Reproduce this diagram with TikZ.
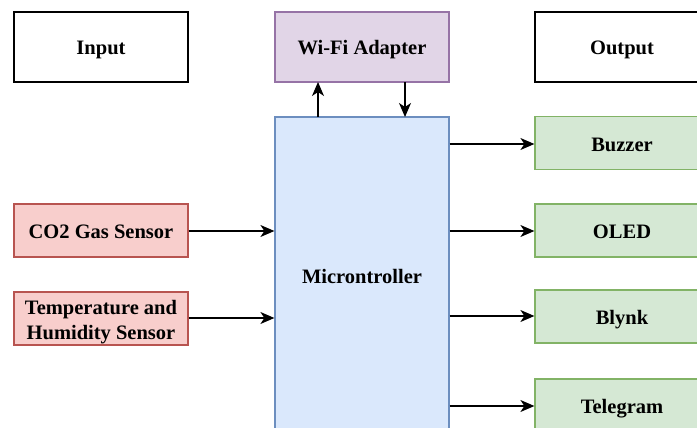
\documentclass[tikz,border=0pt]{standalone}
\usepackage{fontspec}
\setmainfont{Liberation Serif}
\usetikzlibrary{arrows.meta}
\definecolor{redfill}{HTML}{F8CECC}\definecolor{redline}{HTML}{B85450}
\definecolor{purfill}{HTML}{E1D5E7}\definecolor{purline}{HTML}{9673A6}
\definecolor{bluefill}{HTML}{DAE8FC}\definecolor{blueline}{HTML}{6C8EBF}
\definecolor{grnfill}{HTML}{D5E8D4}\definecolor{grnline}{HTML}{82B366}
\tikzset{
  txtbase/.style={align=center, inner sep=0pt, font=\fontsize{20.5}{25}\selectfont\bfseries},
  txt/.style={txtbase, text height=18pt, text depth=2pt},
  txttwo/.style={txtbase, yshift=-3.3pt},
  box/.style={draw, line width=1.2pt, minimum width=174pt, minimum height=53pt, inner sep=0pt},
  plain/.style={box, draw=black, fill=white, minimum height=70pt},
  inbox/.style={box, draw=redline, fill=redfill},
  wifibox/.style={box, draw=purline, fill=purfill, minimum height=70pt},
  mcbox/.style={box, draw=blueline, fill=bluefill, minimum height=316pt},
  outbox/.style={box, draw=grnline, fill=grnfill},
  conn/.style={line width=1.3pt, -{Stealth[length=14pt,width=12pt,inset=4pt]}}
}
\begin{document}
\begin{tikzpicture}[x=1pt,y=-1pt]
\useasboundingbox (0,0) rectangle (697,428);
\clip (0,0) rectangle (697,428);
\node[plain, label={[txt]center:Input}] (input) at (101,47) {};
\node[wifibox, label={[txt]center:Wi-Fi Adapter}] (wifi) at (362,47) {};
\node[plain, label={[txt]center:Output}] (output) at (622,47) {};
\node[mcbox, label={[txt]center:Microntroller}] (mc) at (362,275) {};
\node[inbox, label={[txt]center:CO2 Gas Sensor}] (co2) at (101,230.5) {};
\node[inbox, label={[txttwo]center:{Temperature and\\Humidity Sensor}}] (temp) at (101,318.5) {};
\node[outbox, label={[txt]center:Buzzer}] (buzzer) at (622,143) {};
\node[outbox, label={[txt]center:OLED}] (oled) at (622,230.5) {};
\node[outbox, label={[txt]center:Blynk}] (blynk) at (622,316.5) {};
\node[outbox, label={[txt]center:Telegram}] (tele) at (622,405.5) {};
\coordinate (m1) at (318,117);
\coordinate (w1) at (318,82);
\coordinate (w2) at (405,82);
\coordinate (m2) at (405,117);
\draw[conn] (m1) -- (w1);
\draw[conn] (w2) -- (m2);
\draw[conn] (co2.east |- 0,231) -- (mc.west |- 0,231);
\draw[conn] (temp.east |- 0,318) -- (mc.west |- 0,318);
\draw[conn] (mc.east |- 0,144) -- (buzzer.west |- 0,144);
\draw[conn] (mc.east |- 0,231) -- (oled.west |- 0,231);
\draw[conn] (mc.east |- 0,316) -- (blynk.west |- 0,316);
\draw[conn] (mc.east |- 0,406) -- (tele.west |- 0,406);
\end{tikzpicture}
\end{document}
